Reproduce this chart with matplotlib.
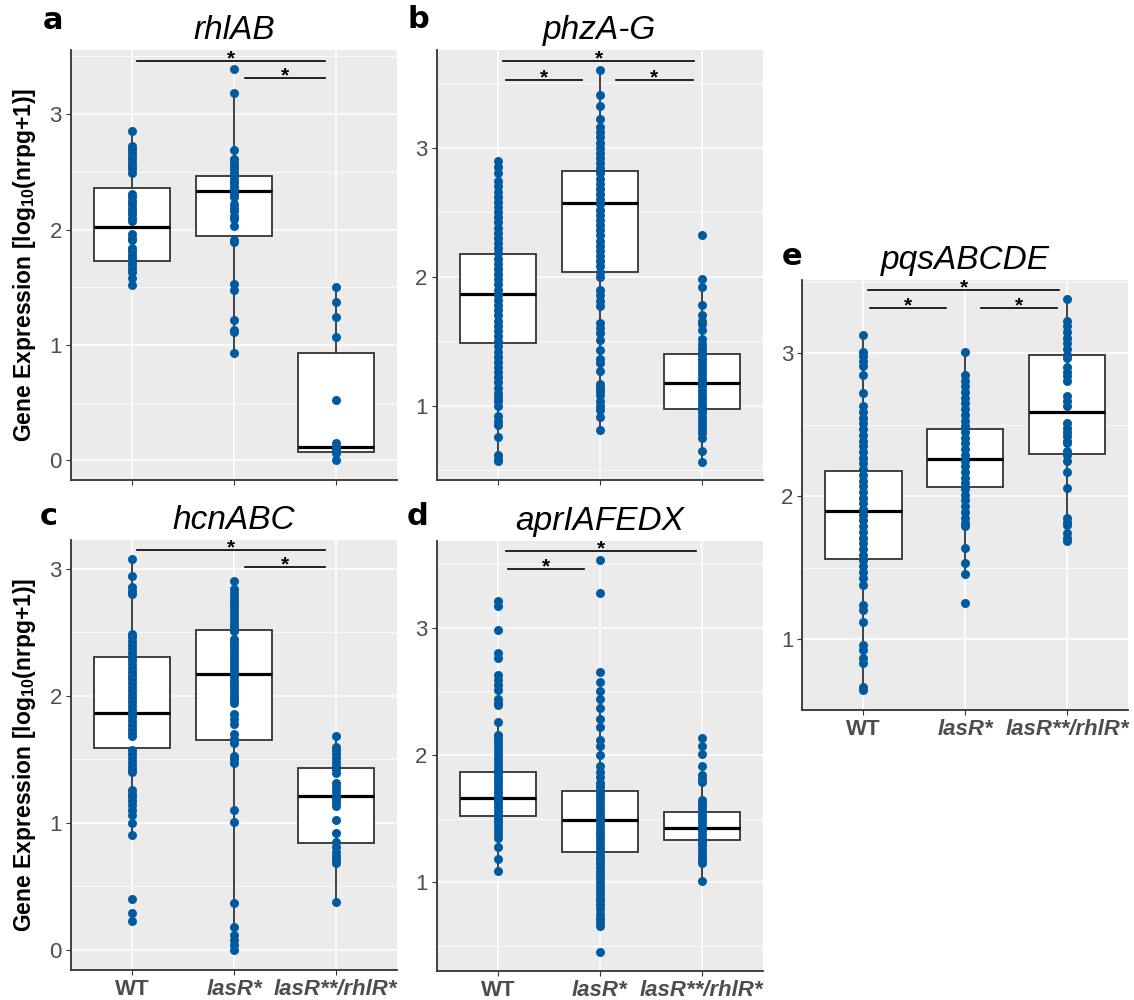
"""
Quorum-sensing gene expression per genotype — five boxplot panels (a-e),
ggplot-like look, points overlaid on every box.
"""

import matplotlib
matplotlib.use("Agg")
import matplotlib.pyplot as plt
from matplotlib.ticker import MultipleLocator

plt.rcParams["font.family"] = ["Liberation Sans", "DejaVu Sans"]
plt.rcParams["mathtext.fontset"] = "custom"
plt.rcParams["mathtext.rm"] = "Liberation Sans"
plt.rcParams["mathtext.bf"] = "Liberation Sans:bold"

# ── Data ──────────────────────────────────────────────────────────────────────

groups = ["WT", "lasR*", "lasR**/rhlR*"]
italic_groups = [False, True, True]

# panel a — rhlAB
a_wt  = [2.85, 2.72, 2.70, 2.67, 2.64, 2.61, 2.58, 2.55, 2.52, 2.49, 2.31, 2.28,
         2.25, 2.22, 2.19, 2.16, 2.13, 2.10, 2.07, 1.96, 1.93, 1.91, 1.84, 1.81,
         1.78, 1.75, 1.72, 1.69, 1.66, 1.63, 1.58, 1.52]
a_las = [3.39, 3.185, 2.69, 2.61, 2.58, 2.55, 2.52, 2.49, 2.46, 2.43, 2.40, 2.37,
         2.34, 2.31, 2.28, 2.22, 2.19, 2.16, 2.12, 2.09, 2.03, 1.91, 1.89, 1.53,
         1.48, 1.22, 1.13, 1.11, 0.93]
a_rhl = [1.505, 1.375, 1.24, 1.065, 0.523, 0.147, 0.12, 0.09, 0.06, 0.0]
# box stats: q1, median, q3, whisker low, whisker high
a_box = [(1.73, 2.02, 2.356, 1.52, 2.85),
         (1.943, 2.333, 2.463, 0.93, 3.185),
         (0.069, 0.118, 0.933, 0.0, 1.505)]
a_sig = [(1.052, 2.898, 3.46), (2.104, 2.898, 3.31)]

# panel b — phzA-G
b_wt  = [2.90, 2.85, 2.80, 2.74, 2.70, 2.66, 2.62, 2.58, 2.54, 2.50, 2.46, 2.42,
         2.38, 2.34, 2.30, 2.26, 2.22, 2.18, 2.14, 2.10, 2.06, 2.02, 1.98, 1.94,
         1.90, 1.86, 1.82, 1.78, 1.74, 1.70, 1.66, 1.62, 1.58, 1.54, 1.50, 1.46,
         1.42, 1.38, 1.34, 1.30, 1.26, 1.22, 1.18, 1.14, 1.10, 1.07, 1.04, 1.00,
         0.92, 0.88, 0.85, 0.76, 0.62, 0.59, 0.57]
b_las = [3.60, 3.41, 3.32, 3.22, 3.16, 3.12, 3.08, 3.04, 3.00, 2.96, 2.92, 2.88,
         2.84, 2.80, 2.76, 2.72, 2.68, 2.64, 2.60, 2.56, 2.52, 2.48, 2.44, 2.40,
         2.36, 2.32, 2.28, 2.24, 2.20, 2.16, 2.12, 2.08, 2.04, 2.00, 1.90, 1.86,
         1.81, 1.77, 1.64, 1.60, 1.56, 1.51, 1.43, 1.36, 1.33, 1.27, 1.17, 1.14,
         1.11, 1.08, 1.04, 1.00, 0.97, 0.91, 0.81]
b_rhl = [2.32, 1.985, 1.917, 1.78, 1.70, 1.66, 1.63, 1.59, 1.52, 1.48, 1.45, 1.42,
         1.39, 1.36, 1.33, 1.30, 1.27, 1.24, 1.21, 1.18, 1.15, 1.12, 1.09, 1.06,
         1.03, 1.00, 0.97, 0.94, 0.91, 0.88, 0.85, 0.82, 0.79, 0.75, 0.65, 0.566]
b_box = [(1.483, 1.863, 2.173, 0.566, 2.897),
         (2.036, 2.568, 2.817, 0.811, 3.599),
         (0.972, 1.178, 1.40, 0.566, 1.985)]
b_sig = [(1.055, 2.926, 3.672), (1.075, 1.824, 3.525), (2.16, 2.91, 3.525)]

# panel c — hcnABC
c_wt  = [3.08, 2.945, 2.86, 2.83, 2.80, 2.49, 2.46, 2.43, 2.40, 2.37, 2.34, 2.31,
         2.28, 2.25, 2.22, 2.19, 2.16, 2.13, 2.10, 2.07, 2.04, 2.01, 1.98, 1.95,
         1.92, 1.89, 1.86, 1.83, 1.80, 1.77, 1.74, 1.71, 1.68, 1.57, 1.54, 1.51,
         1.48, 1.45, 1.42, 1.40, 1.26, 1.23, 1.20, 1.17, 1.14, 1.10, 1.06, 0.995,
         0.90, 0.397, 0.29, 0.226]
c_las = [2.905, 2.84, 2.81, 2.78, 2.75, 2.72, 2.69, 2.66, 2.63, 2.60, 2.57, 2.54,
         2.51, 2.45, 2.42, 2.39, 2.36, 2.33, 2.30, 2.27, 2.24, 2.21, 2.18, 2.15,
         2.12, 2.09, 2.06, 2.03, 2.00, 1.97, 1.94, 1.86, 1.82, 1.78, 1.70, 1.66,
         1.63, 1.53, 1.50, 1.47, 1.10, 1.01, 0.365, 0.18, 0.115, 0.076, 0.037, 0.0]
c_rhl = [1.686, 1.60, 1.57, 1.54, 1.51, 1.48, 1.45, 1.42, 1.39, 1.31, 1.28, 1.25,
         1.22, 1.19, 1.16, 1.13, 1.02, 0.92, 0.85, 0.81, 0.77, 0.74, 0.71, 0.68,
         0.373]
c_box = [(1.587, 1.868, 2.309, 0.904, 3.079),
         (1.652, 2.17, 2.519, 0.0, 2.905),
         (0.843, 1.214, 1.434, 0.373, 1.686)]
c_sig = [(1.052, 2.898, 3.15), (2.104, 2.898, 3.013)]

# panel d — aprIAFEDX
d_wt  = [3.21, 3.17, 2.98, 2.80, 2.76, 2.63, 2.59, 2.55, 2.51, 2.44, 2.41, 2.39,
         2.26, 2.16, 2.13, 2.10, 2.07, 2.04, 2.01, 1.98, 1.95, 1.92, 1.89, 1.86,
         1.83, 1.80, 1.77, 1.74, 1.71, 1.68, 1.65, 1.62, 1.59, 1.56, 1.53, 1.50,
         1.47, 1.44, 1.41, 1.38, 1.35, 1.275, 1.18, 1.09]
d_las = [3.53, 3.27, 2.65, 2.57, 2.50, 2.44, 2.37, 2.28, 2.22, 2.12, 2.07, 2.00,
         1.91, 1.87, 1.83, 1.78, 1.75, 1.72, 1.69, 1.66, 1.63, 1.60, 1.57, 1.54,
         1.51, 1.48, 1.45, 1.42, 1.39, 1.36, 1.33, 1.30, 1.27, 1.24, 1.21, 1.18,
         1.15, 1.12, 1.09, 1.06, 1.03, 1.00, 0.97, 0.94, 0.91, 0.88, 0.85, 0.82,
         0.79, 0.75, 0.72, 0.69, 0.66, 0.456]
d_rhl = [2.13, 2.07, 2.01, 1.914, 1.84, 1.81, 1.79, 1.65, 1.62, 1.59, 1.56, 1.53,
         1.50, 1.47, 1.44, 1.41, 1.38, 1.35, 1.32, 1.29, 1.26, 1.23, 1.20, 1.17,
         1.15, 1.013]
d_box = [(1.524, 1.665, 1.869, 1.09, 2.26),
         (1.236, 1.49, 1.717, 0.65, 2.44),
         (1.332, 1.424, 1.55, 1.013, 1.84)]
d_sig = [(1.078, 2.945, 3.605), (1.098, 1.84, 3.461)]

# panel e — pqsABCDE
e_wt  = [3.13, 3.01, 2.98, 2.95, 2.91, 2.85, 2.72, 2.63, 2.59, 2.55, 2.51, 2.47,
         2.43, 2.39, 2.35, 2.31, 2.27, 2.23, 2.19, 2.15, 2.11, 2.07, 2.03, 1.99,
         1.95, 1.91, 1.87, 1.83, 1.79, 1.75, 1.71, 1.67, 1.63, 1.59, 1.55, 1.51,
         1.47, 1.43, 1.38, 1.24, 1.20, 1.12, 0.96, 0.92, 0.87, 0.83, 0.666, 0.643]
e_las = [3.01, 2.85, 2.81, 2.77, 2.73, 2.69, 2.65, 2.61, 2.57, 2.53, 2.49, 2.45,
         2.41, 2.37, 2.33, 2.29, 2.25, 2.21, 2.17, 2.13, 2.09, 2.05, 2.01, 1.97,
         1.93, 1.89, 1.85, 1.81, 1.79, 1.635, 1.53, 1.453, 1.254]
e_rhl = [3.378, 3.23, 3.19, 3.15, 3.11, 3.07, 3.03, 2.99, 2.965, 2.907, 2.87, 2.84,
         2.81, 2.70, 2.67, 2.63, 2.51, 2.48, 2.45, 2.42, 2.39, 2.37, 2.32, 2.29,
         2.25, 2.17, 2.06, 1.845, 1.82, 1.80, 1.74, 1.71, 1.686]
e_box = [(1.562, 1.898, 2.176, 0.643, 3.133),
         (2.062, 2.258, 2.468, 1.453, 3.01),
         (2.295, 2.587, 2.988, 1.686, 3.378)]
e_sig = [(1.05, 2.918, 3.444), (1.066, 1.813, 3.316), (2.157, 2.902, 3.316)]

# ── Style ─────────────────────────────────────────────────────────────────────

POINT_COLOR = "#005AA0"
PANEL_BG    = "#EBEBEB"
DARK        = "#333333"
TICK_TEXT   = "#4D4D4D"
YLABEL      = r"Gene Expression [log$_{\mathbf{10}}$(nrpg+1)]"


def draw_panel(ax, title, points, box, sig, ylim, yticks,
               xlabels=False, ylabel=False):
    ax.set_facecolor(PANEL_BG)
    ax.set_axisbelow(True)

    stats = [dict(q1=q1, med=med, q3=q3, whislo=lo, whishi=hi, fliers=[])
             for q1, med, q3, lo, hi in box]
    ax.bxp(stats, positions=[1, 2, 3], widths=0.75, patch_artist=True,
           showfliers=False, showcaps=False,
           boxprops=dict(facecolor="white", edgecolor=DARK, lw=1.3),
           whiskerprops=dict(color=DARK, lw=1.3),
           medianprops=dict(color="black", lw=2.3))

    for i, vals in enumerate(points):
        ax.scatter([i + 1] * len(vals), vals, s=42, color=POINT_COLOR,
                   linewidths=0, zorder=3)

    # significance bars
    for x1, x2, y in sig:
        ax.plot([x1, x2], [y, y], color="black", lw=1.2, zorder=4)
        ax.annotate("*", xy=((x1 + x2) / 2, y), xytext=(0, -2.5),
                    textcoords="offset points", ha="center", va="baseline",
                    fontsize=15, fontweight="bold", color="black")

    ax.set_xlim(0.4, 3.6)
    ax.set_ylim(*ylim)
    ax.set_xticks([1, 2, 3])
    ax.set_yticks(yticks)
    ax.yaxis.set_minor_locator(MultipleLocator(0.5))
    ax.grid(which="major", color="white", lw=1.1)
    ax.grid(which="minor", axis="y", color="white", lw=0.55)

    for side in ["top", "right"]:
        ax.spines[side].set_visible(False)
    for side in ["left", "bottom"]:
        ax.spines[side].set_color(DARK)
        ax.spines[side].set_linewidth(1.3)

    ax.tick_params(which="major", length=3.5, width=0.8, color=DARK,
                   labelcolor=TICK_TEXT, pad=3)
    ax.tick_params(which="minor", length=0)
    ax.tick_params(axis="y", labelsize=16)

    if xlabels:
        ax.set_xticklabels(groups, fontsize=16, fontweight="bold")
        for lab, it in zip(ax.get_xticklabels(), italic_groups):
            if it:
                lab.set_style("italic")
    else:
        ax.set_xticklabels([])

    if ylabel:
        ax.set_ylabel(YLABEL, fontsize=16.5, fontweight="bold", labelpad=8)

    ax.set_title(title, fontsize=24, style="italic", pad=8)


# ── Figure ────────────────────────────────────────────────────────────────────

W, H = 1134, 1000
fig = plt.figure(figsize=(W / 100, H / 100), dpi=100)
fig.patch.set_facecolor("white")


def add_axes(left, top, width, height):
    # pixel box -> figure fraction
    return fig.add_axes([left / W, 1 - (top + height) / H, width / W, height / H])


ax_a = add_axes(71, 50, 326, 430)
ax_b = add_axes(436.7, 50, 326.3, 430)
ax_c = add_axes(71, 540, 326, 430)
ax_d = add_axes(436.7, 541, 326.3, 430)
ax_e = add_axes(802.3, 280, 325.7, 430)

draw_panel(ax_a, "rhlAB", [a_wt, a_las, a_rhl], a_box, a_sig,
           (-0.17, 3.555), [0, 1, 2, 3], ylabel=True)
draw_panel(ax_b, "phzA-G", [b_wt, b_las, b_rhl], b_box, b_sig,
           (0.424, 3.757), [1, 2, 3])
draw_panel(ax_c, "hcnABC", [c_wt, c_las, c_rhl], c_box, c_sig,
           (-0.16, 3.228), [0, 1, 2, 3], xlabels=True, ylabel=True)
draw_panel(ax_d, "aprIAFEDX", [d_wt, d_las, d_rhl], d_box, d_sig,
           (0.303, 3.681), [1, 2, 3], xlabels=True)
draw_panel(ax_e, "pqsABCDE", [e_wt, e_las, e_rhl], e_box, e_sig,
           (0.503, 3.514), [1, 2, 3], xlabels=True)

# panel letters
for letter, (px, py) in zip("abcde", [(43, 29), (407, 28), (40, 525),
                                      (407, 525), (782, 265)]):
    fig.text(px / W, 1 - py / H, letter, fontsize=22, fontweight="bold",
             family="DejaVu Sans", ha="left", va="baseline")

fig.savefig("out.png", dpi=100)
plt.close(fig)
